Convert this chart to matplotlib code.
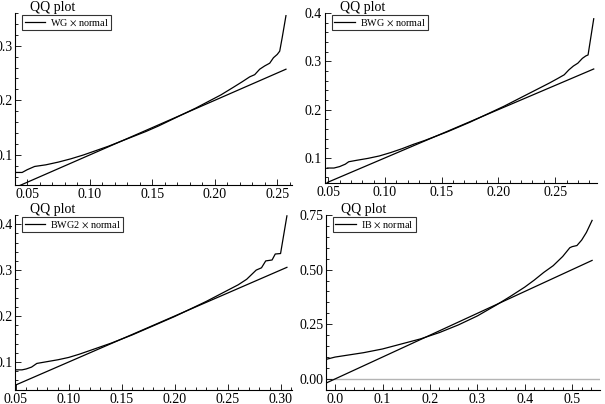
import numpy as np
import matplotlib.pyplot as plt
from matplotlib.ticker import MultipleLocator, FormatStrFormatter

plt.rcParams['font.family'] = ['Liberation Serif', 'DejaVu Serif']
plt.rcParams['mathtext.fontset'] = 'stix'

# WG x normal
wg_x = [0.040, 0.046, 0.050, 0.056, 0.065, 0.075, 0.085, 0.095, 0.105, 0.115, 0.125,
        0.135, 0.145, 0.155, 0.165, 0.175, 0.185, 0.195, 0.205, 0.215, 0.222, 0.228,
        0.232, 0.236, 0.240, 0.244, 0.247, 0.250, 0.252, 0.254, 0.257]
wg_y = [0.068, 0.068, 0.073, 0.079, 0.082, 0.087, 0.093, 0.100, 0.108, 0.116, 0.125,
        0.134, 0.143, 0.153, 0.164, 0.175, 0.186, 0.198, 0.210, 0.224, 0.234, 0.243,
        0.247, 0.257, 0.263, 0.268, 0.278, 0.284, 0.290, 0.315, 0.355]
wg_line = [0.040, 0.257]

# BWG x normal
bwg_x = [0.049, 0.055, 0.060, 0.065, 0.068, 0.075, 0.085, 0.095, 0.105, 0.115, 0.125,
         0.135, 0.145, 0.155, 0.165, 0.175, 0.185, 0.195, 0.205, 0.215, 0.225, 0.235,
         0.245, 0.252, 0.258, 0.262, 0.266, 0.270, 0.274, 0.277, 0.279, 0.284]
bwg_y = [0.079, 0.079, 0.082, 0.087, 0.092, 0.095, 0.099, 0.104, 0.111, 0.119, 0.128,
         0.136, 0.145, 0.154, 0.164, 0.174, 0.185, 0.196, 0.207, 0.219, 0.231, 0.243,
         0.255, 0.264, 0.272, 0.282, 0.290, 0.296, 0.306, 0.311, 0.313, 0.388]
bwg_line = [0.049, 0.284]

# BWG2 x normal
bwg2_x = [0.050, 0.056, 0.060, 0.065, 0.070, 0.080, 0.090, 0.100, 0.110, 0.120, 0.130,
          0.140, 0.150, 0.160, 0.170, 0.180, 0.190, 0.200, 0.210, 0.220, 0.230, 0.240,
          0.250, 0.260, 0.268, 0.277, 0.282, 0.286, 0.292, 0.295, 0.300, 0.306]
bwg2_y = [0.083, 0.083, 0.085, 0.089, 0.097, 0.101, 0.105, 0.110, 0.117, 0.125, 0.133,
          0.141, 0.150, 0.159, 0.169, 0.179, 0.189, 0.199, 0.210, 0.221, 0.232, 0.244,
          0.256, 0.268, 0.280, 0.300, 0.305, 0.320, 0.322, 0.335, 0.336, 0.418]
bwg2_line = [0.050, 0.306]

# IB x normal
ib_x = [-0.018, 0.0, 0.03, 0.06, 0.10, 0.14, 0.18, 0.22, 0.26, 0.30, 0.34, 0.37,
        0.40, 0.42, 0.44, 0.46, 0.48, 0.495, 0.50, 0.51, 0.52, 0.53, 0.542]
ib_y = [0.090, 0.100, 0.110, 0.120, 0.137, 0.160, 0.183, 0.212, 0.247, 0.288, 0.338,
        0.378, 0.420, 0.452, 0.487, 0.518, 0.560, 0.600, 0.605, 0.610, 0.635, 0.670, 0.725]
ib_line = [-0.018, 0.542]

panels = [
    # data x, data y, line ends, label, axes rect, xlim, ylim, x major, x minor, y major, y minor, xfmt, yfmt
    (wg_x, wg_y, wg_line, r'WG $\times$ normal', [0.025, 0.542, 0.458, 0.426],
     (0.0404, 0.262), (0.045, 0.36), 0.05, 0.01, 0.1, 0.02, '%.2f', '%.1f'),
    (bwg_x, bwg_y, bwg_line, r'BWG $\times$ normal', [0.537, 0.547, 0.450, 0.421],
     (0.047, 0.287), (0.048, 0.40), 0.05, 0.01, 0.1, 0.02, '%.2f', '%.1f'),
    (bwg2_x, bwg2_y, bwg2_line, r'BWG2 $\times$ normal', [0.025, 0.035, 0.458, 0.433],
     (0.0495, 0.311), (0.0395, 0.42), 0.05, 0.01, 0.1, 0.02, '%.2f', '%.1f'),
    (ib_x, ib_y, ib_line, r'IB $\times$ normal', [0.539, 0.035, 0.453, 0.433],
     (-0.019, 0.559), (-0.05, 0.75), 0.1, 0.02, 0.25, 0.05, '%.1f', '%.2f'),
]

fig = plt.figure(figsize=(6.05, 4.04), dpi=100)

for i, (x, y, ln, label, rect, xlim, ylim, xmaj, xmin, ymaj, ymin, xfmt, yfmt) in enumerate(panels):
    ax = fig.add_axes(rect)
    if i == 3:
        ax.axhline(0, color='#b4b4b4', lw=1.0, zorder=1)
    ax.plot(x, y, color='black', lw=0.9, label=label)
    ax.plot(ln, ln, color='black', lw=0.9)
    ax.set_xlim(xlim)
    ax.set_ylim(ylim)
    ax.spines['top'].set_visible(False)
    ax.spines['right'].set_visible(False)
    ax.spines['left'].set_linewidth(0.8)
    ax.spines['bottom'].set_linewidth(0.8)
    ax.xaxis.set_major_locator(MultipleLocator(xmaj))
    ax.xaxis.set_minor_locator(MultipleLocator(xmin))
    ax.yaxis.set_major_locator(MultipleLocator(ymaj))
    ax.yaxis.set_minor_locator(MultipleLocator(ymin))
    ax.xaxis.set_major_formatter(FormatStrFormatter(xfmt))
    ax.yaxis.set_major_formatter(FormatStrFormatter(yfmt))
    ax.tick_params(which='both', direction='in', width=0.6, labelsize=10, pad=2)
    ax.tick_params(which='major', length=4)
    ax.tick_params(which='minor', length=2)
    ax.text(0.055, 1.013, 'QQ plot', transform=ax.transAxes, fontsize=10,
            ha='left', va='baseline')
    leg = ax.legend(loc='upper left', bbox_to_anchor=(0.025, 0.99), borderaxespad=0,
                    fontsize=7.3, frameon=True, fancybox=False, borderpad=0.25,
                    handlelength=2.0, handletextpad=0.5)
    leg.get_frame().set_edgecolor('black')
    leg.get_frame().set_linewidth(0.8)

plt.savefig('out.png', dpi=100)
